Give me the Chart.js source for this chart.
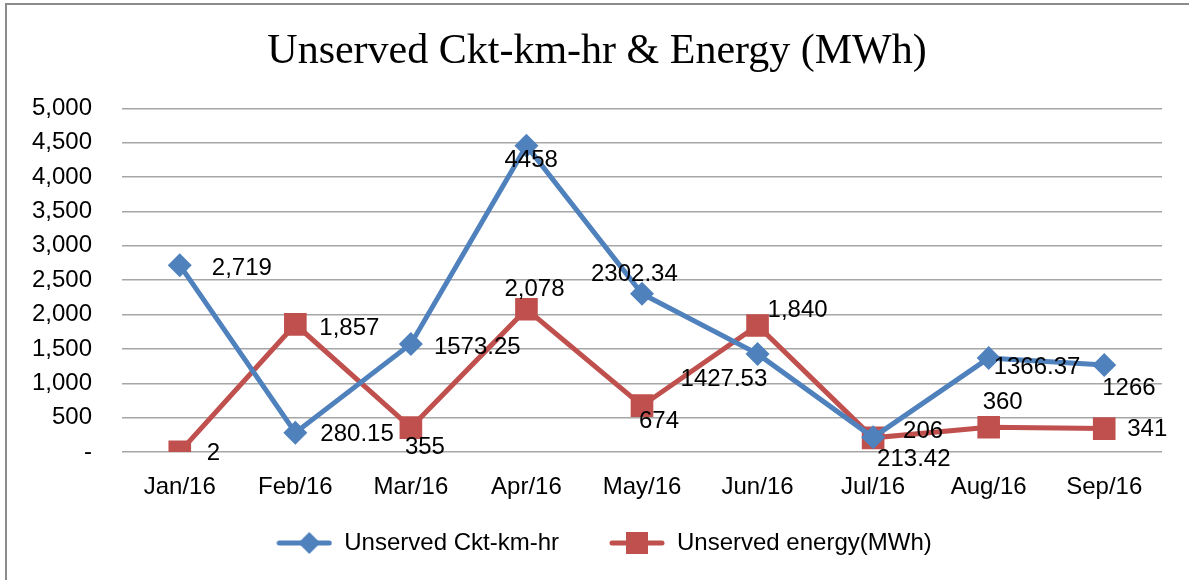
<!DOCTYPE html>
<html>
<head>
<meta charset="utf-8">
<script src="https://cdn.jsdelivr.net/npm/chart.js"></script>
<style>
  html, body { margin: 0; padding: 0; background: #fff; }
  #wrap { width: 1189px; height: 580px; position: relative; }
</style>
</head>
<body>
<div id="wrap"><canvas id="chart"></canvas></div>
<script>
const months = ['Jan/16', 'Feb/16', 'Mar/16', 'Apr/16', 'May/16', 'Jun/16', 'Jul/16', 'Aug/16', 'Sep/16'];
const cktKmHr = [2719, 280.15, 1573.25, 4458, 2302.34, 1427.53, 213.42, 1366.37, 1266];
const energyMWh = [2, 1857, 355, 2078, 674, 1840, 206, 360, 341];
const cktLabels = ['2,719', '280.15', '1573.25', '4458', '2302.34', '1427.53', '213.42', '1366.37', '1266'];
const energyLabels = ['2', '1,857', '355', '2,078', '674', '1,840', '206', '360', '341'];
const yTicks = [0, 500, 1000, 1500, 2000, 2500, 3000, 3500, 4000, 4500, 5000];

// label placement next to each point: [dx of left edge, dy of centre]
const cktLabelPos = [[32, 3], [25, 2], [23, 3], [-22, 15], [-51, -19], [-77, 25], [4, 22], [5, 9], [-2, 23]];
const energyLabelPos = [[27, 2], [24, 4], [-6, 20], [-22, -20], [-3, 16], [10, -15], [30, -6], [-6, -25], [23, 1]];

const BLUE = '#4f81bd';
const RED = '#c0504d';
const FONT = "'Liberation Sans', Arial, sans-serif";

function legendIcon(color, shape) {
  const c = document.createElement('canvas');
  c.width = 56; c.height = 26;
  const ctx = c.getContext('2d');
  ctx.strokeStyle = color;
  ctx.lineWidth = 5;
  ctx.lineCap = 'round';
  ctx.beginPath();
  ctx.moveTo(3, 13); ctx.lineTo(53, 13);
  ctx.stroke();
  ctx.fillStyle = color;
  ctx.beginPath();
  if (shape === 'diamond') {
    ctx.moveTo(33, 2); ctx.lineTo(44, 13); ctx.lineTo(33, 24); ctx.lineTo(22, 13);
  } else {
    ctx.rect(17, 2, 22, 22);
  }
  ctx.fill();
  return c;
}

const pointLabels = {
  id: 'pointLabels',
  afterDatasetsDraw(chart) {
    const ctx = chart.ctx;
    const sets = [[cktLabels, cktLabelPos], [energyLabels, energyLabelPos]];
    ctx.save();
    ctx.font = '24px ' + FONT;
    ctx.fillStyle = '#000';
    ctx.textAlign = 'left';
    ctx.textBaseline = 'middle';
    sets.forEach((s, i) => {
      const meta = chart.getDatasetMeta(i);
      meta.data.forEach((pt, j) => {
        ctx.fillText(s[0][j], pt.x + s[1][j][0], pt.y + s[1][j][1]);
      });
    });
    ctx.restore();
  }
};

// title and legend sit a little right of the plot centre in the original
const nudge = {
  id: 'nudge',
  afterLayout(chart) {
    chart.titleBlock.left += 16; chart.titleBlock.right += 16;
    chart.legend.left += 23; chart.legend.right += 23;
  }
};

const frame = {
  id: 'frame',
  beforeDraw(chart) {
    const ctx = chart.ctx;
    ctx.save();
    ctx.fillStyle = '#fff';
    ctx.fillRect(0, 0, chart.width, chart.height);
    ctx.strokeStyle = '#8c8c8c';
    ctx.lineWidth = 2;
    ctx.beginPath();
    ctx.moveTo(6, chart.height);
    ctx.lineTo(6, 4);
    ctx.lineTo(chart.width, 4);
    ctx.stroke();
    ctx.restore();
  }
};

new Chart(document.getElementById('chart'), {
  type: 'line',
  data: {
    labels: months,
    datasets: [{
      label: 'Unserved Ckt-km-hr',
      data: cktKmHr,
      borderColor: BLUE,
      backgroundColor: BLUE,
      borderWidth: 5,
      pointStyle: 'rectRot',
      pointRadius: 12,
      pointHoverRadius: 12,
      pointBorderWidth: 0,
      tension: 0
    }, {
      label: 'Unserved energy(MWh)',
      data: energyMWh,
      borderColor: RED,
      backgroundColor: RED,
      borderWidth: 5,
      pointStyle: 'rect',
      pointRadius: 16,
      pointHoverRadius: 16,
      pointBorderWidth: 0,
      tension: 0
    }]
  },
  options: {
    responsive: true,
    maintainAspectRatio: false,
    animation: false,
    layout: { padding: { left: 0, right: 27, top: 0, bottom: 15 } },
    plugins: {
      title: {
        display: true,
        text: 'Unserved Ckt-km-hr & Energy (MWh)',
        color: '#000',
        font: { family: "'Liberation Serif', 'Times New Roman', serif", size: 42, weight: 'normal' },
        padding: { top: 27, bottom: 31 }
      },
      legend: {
        position: 'bottom',
        labels: {
          usePointStyle: true,
          pointStyleWidth: 56,
          boxHeight: 24,
          padding: 10,
          color: '#000',
          font: { family: FONT, size: 24 },
          generateLabels(chart) {
            return chart.data.datasets.map((ds, i) => ({
              text: i === 0 ? ds.label + '      ' : ds.label,
              pointStyle: legendIcon(ds.borderColor, i === 0 ? 'diamond' : 'square'),
              fillStyle: ds.borderColor,
              strokeStyle: ds.borderColor,
              lineWidth: 0,
              hidden: false,
              datasetIndex: i,
              fontColor: '#000'
            }));
          }
        }
      },
      tooltip: { enabled: false }
    },
    scales: {
      x: {
        offset: true,
        grid: { display: false, drawTicks: false },
        border: { display: false },
        ticks: { color: '#000', font: { family: FONT, size: 24 }, padding: 21, maxRotation: 0 },
        afterFit(scale) { scale.height = 69; }
      },
      y: {
        min: 0,
        max: 5000,
        afterBuildTicks(scale) { scale.ticks = yTicks.map(v => ({ value: v })); },
        grid: { color: '#a6a6a6', lineWidth: 1.5, drawTicks: false },
        border: { display: false },
        ticks: {
          color: '#000',
          font: { family: FONT, size: 24 },
          padding: 30,
          callback: v => v === 0 ? '-' : v.toLocaleString('en-US')
        },
        afterFit(scale) { scale.width = 122; }
      }
    }
  },
  plugins: [frame, nudge, pointLabels]
});
</script>
</body>
</html>
